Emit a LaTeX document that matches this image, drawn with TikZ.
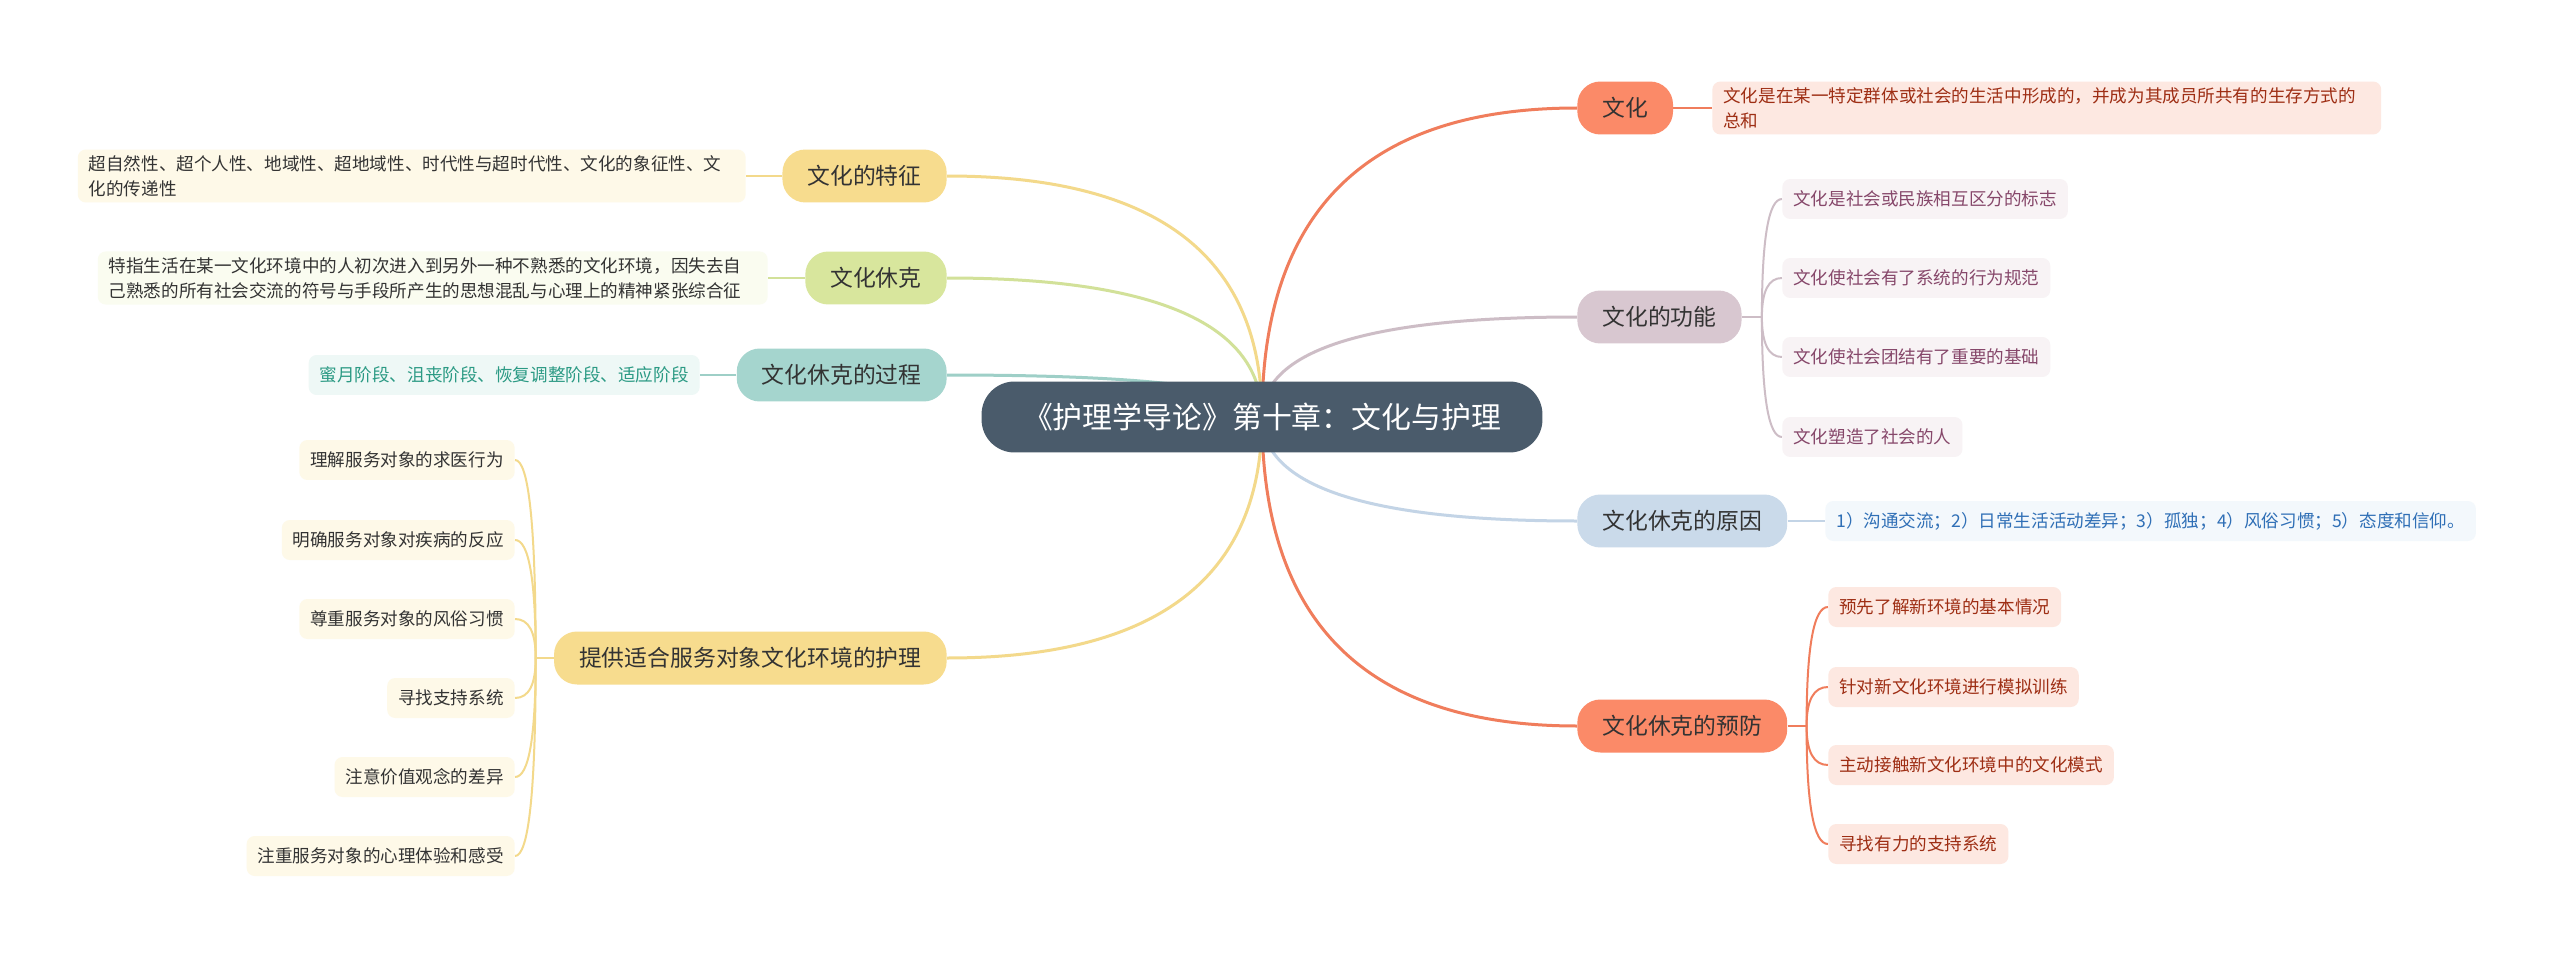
\documentclass[tikz,border=0pt]{standalone}
\usepackage{fontspec}
\setmainfont{Noto Sans CJK SC}
\usetikzlibrary{calc,backgrounds}

\definecolor{rootfill}{HTML}{4A5B6B}
\definecolor{ink}{HTML}{333333}
\definecolor{coral}{HTML}{FB8A68}
\definecolor{corall}{HTML}{F07D5C}
\definecolor{coralbg}{HTML}{FDE8E1}
\definecolor{coraltx}{HTML}{9E2E14}
\definecolor{mauve}{HTML}{D8C7D0}
\definecolor{mauvel}{HTML}{CDBDC6}
\definecolor{mauvebg}{HTML}{F8F3F5}
\definecolor{mauvetx}{HTML}{86476A}
\definecolor{sky}{HTML}{CADAEA}
\definecolor{skyl}{HTML}{C3D4E6}
\definecolor{skybg}{HTML}{F3F8FC}
\definecolor{skytx}{HTML}{2F6FB6}
\definecolor{sand}{HTML}{F7DC8E}
\definecolor{sandl}{HTML}{F3D98B}
\definecolor{sandbg}{HTML}{FEF9E8}
\definecolor{lime}{HTML}{D8E69D}
\definecolor{limel}{HTML}{D2E199}
\definecolor{limebg}{HTML}{FAFCF0}
\definecolor{mint}{HTML}{A5D5CE}
\definecolor{mintl}{HTML}{9ECFC7}
\definecolor{mintbg}{HTML}{EEF8F6}
\definecolor{minttx}{HTML}{2B9A84}

\begin{document}
\begin{tikzpicture}[
  x=0.02cm, y=-0.02cm,
  rootbox/.style={fill=rootfill, text=white, rounded corners=0.66cm, minimum width=11.22cm, minimum height=1.42cm, font={\fontsize{17}{20}\selectfont}},
  topic/.style={rounded corners=0.46cm, inner xsep=0.5cm, minimum height=1.06cm, text=ink, font={\fontsize{13}{16}\selectfont}},
  leaf/.style={rounded corners=0.16cm, inner xsep=0.22cm, minimum height=0.8cm, align=left, font={\fontsize{10}{14.2}\selectfont}},
  link/.style={line width=0.06cm},
  twig/.style={line width=0.04cm},
  curvy/.style={to path={.. controls ($(\tikztostart)!.667!(\tikztostart |- \tikztotarget)$) and ($(\tikztotarget)!.667!(\tikztostart |- \tikztotarget)$) .. (\tikztotarget)}}
]
\useasboundingbox (0,0) rectangle (2560,953);

\node[rootbox] (root) at (1262,417) {《护理学导论》第十章：文化与护理};

% right side
\node[topic, fill=coral, anchor=west] (wh) at (1577,108) {文化};
\node[topic, fill=mauve, anchor=west] (gn) at (1577,317) {文化的功能};
\node[topic, fill=sky, anchor=west] (yy) at (1577,521) {文化休克的原因};
\node[topic, fill=coral, anchor=west] (yf) at (1577,726) {文化休克的预防};

\node[leaf, fill=coralbg, text=coraltx, anchor=west, text width=12.94cm] (whd) at (1712,108) {文化是在某一特定群体或社会的生活中形成的，并成为其成员所共有的生存方式的\\总和};

\node[leaf, fill=mauvebg, text=mauvetx, anchor=west] (gn1) at (1782,199) {文化是社会或民族相互区分的标志};
\node[leaf, fill=mauvebg, text=mauvetx, anchor=west] (gn2) at (1782,278) {文化使社会有了系统的行为规范};
\node[leaf, fill=mauvebg, text=mauvetx, anchor=west] (gn3) at (1782,357) {文化使社会团结有了重要的基础};
\node[leaf, fill=mauvebg, text=mauvetx, anchor=west] (gn4) at (1782,437) {文化塑造了社会的人};

\node[leaf, fill=skybg, text=skytx, anchor=west] (yyd) at (1825,521) {1）沟通交流；2）日常生活活动差异；3）孤独；4）风俗习惯；5）态度和信仰。};

\node[leaf, fill=coralbg, text=coraltx, anchor=west] (yf1) at (1828,607) {预先了解新环境的基本情况};
\node[leaf, fill=coralbg, text=coraltx, anchor=west] (yf2) at (1828,687) {针对新文化环境进行模拟训练};
\node[leaf, fill=coralbg, text=coraltx, anchor=west] (yf3) at (1828,765) {主动接触新文化环境中的文化模式};
\node[leaf, fill=coralbg, text=coraltx, anchor=west] (yf4) at (1828,844) {寻找有力的支持系统};

% left side
\node[topic, fill=sand, anchor=east] (tz) at (947,176) {文化的特征};
\node[topic, fill=lime, anchor=east] (xk) at (947,278) {文化休克};
\node[topic, fill=mint, anchor=east] (gc) at (947,375) {文化休克的过程};
\node[topic, fill=sand, anchor=east] (hl) at (947,658) {提供适合服务对象文化环境的护理};

\node[leaf, fill=sandbg, text=ink, anchor=east, text width=12.92cm] (tzd) at (746,176) {超自然性、超个人性、地域性、超地域性、时代性与超时代性、文化的象征性、文\\化的传递性};
\node[leaf, fill=limebg, text=ink, anchor=east, text width=12.96cm] (xkd) at (768,278) {特指生活在某一文化环境中的人初次进入到另外一种不熟悉的文化环境，因失去自\\己熟悉的所有社会交流的符号与手段所产生的思想混乱与心理上的精神紧张综合征};
\node[leaf, fill=mintbg, text=minttx, anchor=east] (gcd) at (700,375) {蜜月阶段、沮丧阶段、恢复调整阶段、适应阶段};

\node[leaf, fill=sandbg, text=ink, anchor=east] (hl1) at (515,460) {理解服务对象的求医行为};
\node[leaf, fill=sandbg, text=ink, anchor=east] (hl2) at (515,540) {明确服务对象对疾病的反应};
\node[leaf, fill=sandbg, text=ink, anchor=east] (hl3) at (515,619) {尊重服务对象的风俗习惯};
\node[leaf, fill=sandbg, text=ink, anchor=east] (hl4) at (515,698) {寻找支持系统};
\node[leaf, fill=sandbg, text=ink, anchor=east] (hl5) at (515,777) {注意价值观念的差异};
\node[leaf, fill=sandbg, text=ink, anchor=east] (hl6) at (515,856) {注重服务对象的心理体验和感受};

\coordinate (gn-s) at ($(gn.east)+(20,0)$);
\coordinate (yf-s) at ($(yf.east)+(19,0)$);
\coordinate (hl-s) at ($(hl.west)+(-18,0)$);

\begin{scope}[on background layer]
\fill[white] (0,0) rectangle (2560,953);
% root to topics
\draw[link, corall] (root.center) to[curvy] (wh.west);
\draw[link, mauvel] (root.center) to[curvy] (gn.west);
\draw[link, skyl] (root.center) to[curvy] (yy.west);
\draw[link, corall] (root.center) to[curvy] (yf.west);
\draw[link, sandl] (root.center) to[curvy] (tz.east);
\draw[link, limel] (root.center) to[curvy] (xk.east);
\draw[link, mintl] (root.center) to[curvy] (gc.east);
\draw[link, sandl] (root.center) to[curvy] (hl.east);
% single details
\draw[twig, corall] (wh.east) -- (whd.west);
\draw[twig, skyl] (yy.east) -- (yyd.west);
\draw[twig, sandl] (tz.west) -- (tzd.east);
\draw[twig, limel] (xk.west) -- (xkd.east);
\draw[twig, mintl] (gc.west) -- (gcd.east);
% branches
\draw[twig, mauvel] (gn.east) -- (gn-s);
\draw[twig, mauvel] (gn-s) to[curvy] (gn1.west);
\draw[twig, mauvel] (gn-s) to[curvy] (gn2.west);
\draw[twig, mauvel] (gn-s) to[curvy] (gn3.west);
\draw[twig, mauvel] (gn-s) to[curvy] (gn4.west);
\draw[twig, corall] (yf.east) -- (yf-s);
\draw[twig, corall] (yf-s) to[curvy] (yf1.west);
\draw[twig, corall] (yf-s) to[curvy] (yf2.west);
\draw[twig, corall] (yf-s) to[curvy] (yf3.west);
\draw[twig, corall] (yf-s) to[curvy] (yf4.west);
\draw[twig, sandl] (hl.west) -- (hl-s);
\draw[twig, sandl] (hl-s) to[curvy] (hl1.east);
\draw[twig, sandl] (hl-s) to[curvy] (hl2.east);
\draw[twig, sandl] (hl-s) to[curvy] (hl3.east);
\draw[twig, sandl] (hl-s) to[curvy] (hl4.east);
\draw[twig, sandl] (hl-s) to[curvy] (hl5.east);
\draw[twig, sandl] (hl-s) to[curvy] (hl6.east);
\end{scope}
\end{tikzpicture}
\end{document}
